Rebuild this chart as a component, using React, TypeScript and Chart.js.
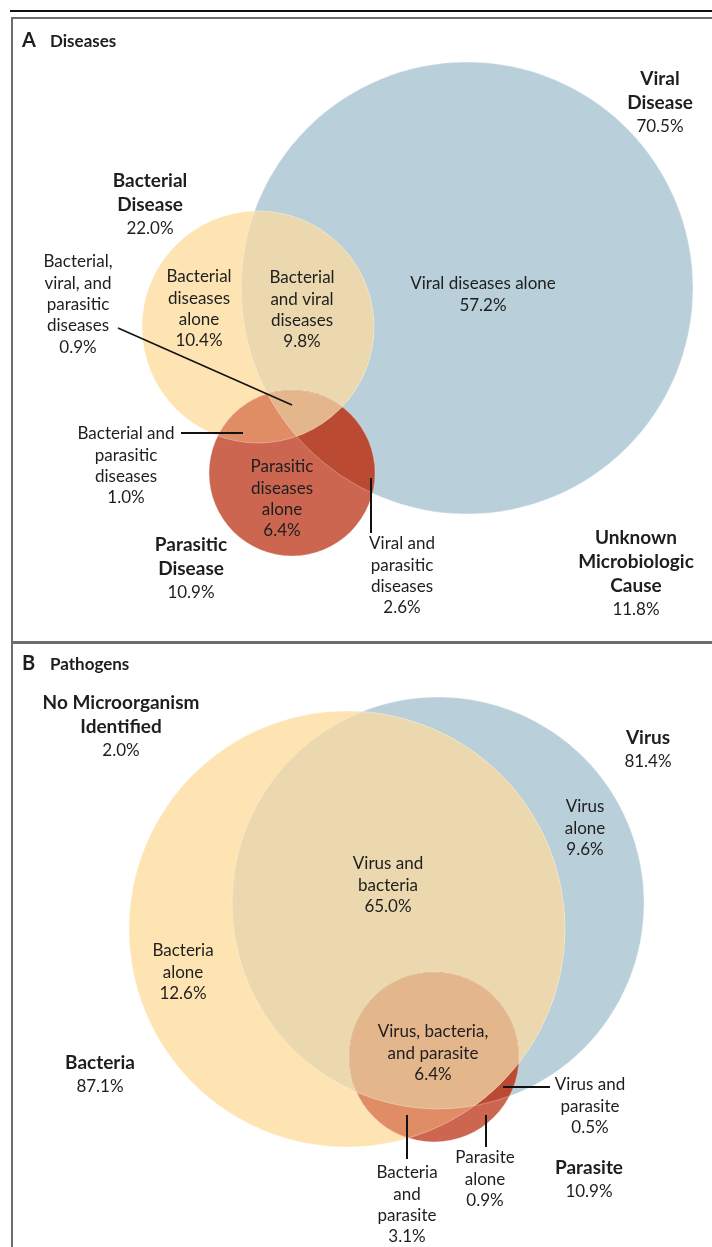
import React, { useEffect, useRef } from "react";
import { Chart, registerables } from "chart.js";

Chart.register(...registerables);

// ---------- DATA ----------
// Region order: [first alone, second alone, third alone, 1+2, 1+3, 2+3, 1+2+3]
// Panel A: Diseases (1 = viral, 2 = bacterial, 3 = parasitic)
const diseaseSets = ["Viral Disease", "Bacterial Disease", "Parasitic Disease"];
const diseaseSetPct = [70.5, 22.0, 10.9];
const diseaseUnknownPct = 11.8;
const diseaseRegionPct = [57.2, 10.4, 6.4, 9.8, 2.6, 1.0, 0.9];

// Panel B: Pathogens (1 = virus, 2 = bacteria, 3 = parasite)
const pathogenSets = ["Virus", "Bacteria", "Parasite"];
const pathogenSetPct = [81.4, 87.1, 10.9];
const pathogenNonePct = 2.0;
const pathogenRegionPct = [9.6, 12.6, 0.9, 65.0, 0.5, 3.1, 6.4];

// ---------- LAYOUT (circle geometry in chart units) ----------
const W = 712;
const H = 1247;
const circleXA = [467, 258, 292];
const circleYA = [288, 327, 473];
const circleRA = [226, 116, 83];
const circleXB = [438, 347, 434];
const circleYB = [903, 929, 1057];
const circleRB = [206, 218, 85];

// ---------- STYLE ----------
const setColors = ["#b9cfda", "#fde4b2", "#cc6650"];
const pairColors = ["#ebd8ae", "#bb4a33", "#e08d65"]; // 1+2, 1+3, 2+3
const tripleColor = "#e3b68b";
const FONT = "Lato, 'Open Sans', sans-serif";
const TEXT = "#1e1e1e";

const pct = (v: number) => v.toFixed(1) + "%";

type Block = { x: number; y: number; head?: string[]; body: string[] };

const blocksA: Block[] = [
  { x: 660, y: 79, head: ["Viral", "Disease"], body: [pct(diseaseSetPct[0])] },
  { x: 150, y: 181, head: ["Bacterial", "Disease"], body: [pct(diseaseSetPct[1])] },
  { x: 191, y: 545, head: ["Parasitic", "Disease"], body: [pct(diseaseSetPct[2])] },
  { x: 636, y: 538, head: ["Unknown", "Microbiologic", "Cause"], body: [pct(diseaseUnknownPct)] },
  { x: 483, y: 284, body: ["Viral diseases alone", pct(diseaseRegionPct[0])] },
  { x: 199, y: 277, body: ["Bacterial", "diseases", "alone", pct(diseaseRegionPct[1])] },
  { x: 282, y: 467, body: ["Parasitic", "diseases", "alone", pct(diseaseRegionPct[2])] },
  { x: 302, y: 278, body: ["Bacterial", "and viral", "diseases", pct(diseaseRegionPct[3])] },
  { x: 402, y: 544, body: ["Viral and", "parasitic", "diseases", pct(diseaseRegionPct[4])] },
  { x: 126, y: 434, body: ["Bacterial and", "parasitic", "diseases", pct(diseaseRegionPct[5])] },
  { x: 78, y: 262, body: ["Bacterial,", "viral, and", "parasitic", "diseases", pct(diseaseRegionPct[6])] },
];
const leadersA = [
  [118, 328, 292, 405],
  [181, 433, 243, 433],
  [371, 478, 371, 533],
];

const blocksB: Block[] = [
  { x: 648, y: 738, head: ["Virus"], body: [pct(pathogenSetPct[0])] },
  { x: 100, y: 1063, head: ["Bacteria"], body: [pct(pathogenSetPct[1])] },
  { x: 589, y: 1168, head: ["Parasite"], body: [pct(pathogenSetPct[2])] },
  { x: 121, y: 703, head: ["No Microorganism", "Identified"], body: [pct(pathogenNonePct)] },
  { x: 585, y: 807, body: ["Virus", "alone", pct(pathogenRegionPct[0])] },
  { x: 183, y: 951, body: ["Bacteria", "alone", pct(pathogenRegionPct[1])] },
  { x: 485, y: 1158, body: ["Parasite", "alone", pct(pathogenRegionPct[2])] },
  { x: 388, y: 864, body: ["Virus and", "bacteria", pct(pathogenRegionPct[3])] },
  { x: 590, y: 1085, body: ["Virus and", "parasite", pct(pathogenRegionPct[4])] },
  { x: 407, y: 1173, body: ["Bacteria", "and", "parasite", pct(pathogenRegionPct[5])] },
  { x: 433, y: 1032, body: ["Virus, bacteria,", "and parasite", pct(pathogenRegionPct[6])] },
];
const leadersB = [
  [503, 1087, 550, 1087],
  [486, 1115, 486, 1147],
  [407, 1115, 407, 1159],
];

const vennPlugin = {
  id: "venn",
  beforeDatasetsDraw(chart: any) {
    const ctx = chart.ctx as CanvasRenderingContext2D;
    ctx.save();
    ctx.fillStyle = "#ffffff";
    ctx.fillRect(0, 0, chart.width, chart.height);
    ctx.fillStyle = "#111111";
    ctx.fillRect(10, 10, W - 10, 2);
    ctx.fillStyle = "#6c6c6c";
    ctx.fillRect(11, 17, W - 11, 2);
    ctx.fillRect(11, 17, 2, H - 17);
    ctx.fillRect(11, 641, W - 11, 3);
    ctx.restore();
  },
  afterDatasetsDraw(chart: any) {
    const ctx = chart.ctx as CanvasRenderingContext2D;
    const sx = chart.scales.x;
    const sy = chart.scales.y;
    const circ = (xs: number[], ys: number[], rs: number[]) =>
      xs.map((x, i) => ({
        x: sx.getPixelForValue(x),
        y: sy.getPixelForValue(ys[i]),
        r: Math.abs(sx.getPixelForValue(x + rs[i]) - sx.getPixelForValue(x)),
      }));
    const paint = (cs: { x: number; y: number; r: number }[]) => {
      const path = (c: { x: number; y: number; r: number }) => {
        ctx.beginPath();
        ctx.arc(c.x, c.y, c.r, 0, Math.PI * 2);
      };
      const pairs = [
        [0, 1],
        [0, 2],
        [1, 2],
      ];
      pairs.forEach(([i, j], k) => {
        ctx.save();
        path(cs[i]);
        ctx.clip();
        path(cs[j]);
        ctx.fillStyle = pairColors[k];
        ctx.fill();
        ctx.restore();
      });
      ctx.save();
      path(cs[0]);
      ctx.clip();
      path(cs[1]);
      ctx.clip();
      path(cs[2]);
      ctx.fillStyle = tripleColor;
      ctx.fill();
      ctx.restore();
      ctx.save();
      cs.forEach((c) => {
        path(c);
        ctx.strokeStyle = "rgba(255,255,255,0.3)";
        ctx.lineWidth = 1;
        ctx.stroke();
      });
      ctx.restore();
    };
    paint(circ(circleXA, circleYA, circleRA));
    paint(circ(circleXB, circleYB, circleRB));
  },
  afterDraw(chart: any) {
    const ctx = chart.ctx as CanvasRenderingContext2D;
    const sx = chart.scales.x;
    const sy = chart.scales.y;
    ctx.save();
    ctx.fillStyle = TEXT;
    ctx.textBaseline = "middle";
    // panel titles
    ctx.textAlign = "left";
    ctx.font = `bold 20px ${FONT}`;
    ctx.fillText("A", 22, 41);
    ctx.fillText("B", 22, 664);
    ctx.font = `bold 17px ${FONT}`;
    ctx.fillText("Diseases", 50, 42);
    ctx.fillText("Pathogens", 50, 665);
    // blocks
    ctx.textAlign = "center";
    const drawBlock = (b: Block) => {
      let y = b.y;
      if (b.head) {
        ctx.font = `bold 19px ${FONT}`;
        b.head.forEach((t) => {
          ctx.fillText(t, b.x, y);
          y += 24;
        });
      }
      ctx.font = `17px ${FONT}`;
      b.body.forEach((t) => {
        ctx.fillText(t, b.x, y);
        y += 21.3;
      });
    };
    blocksA.forEach(drawBlock);
    blocksB.forEach(drawBlock);
    // leaders
    ctx.strokeStyle = "#111111";
    [...leadersA, ...leadersB].forEach((l, i) => {
      ctx.lineWidth = i === 0 ? 1.5 : 2;
      ctx.beginPath();
      ctx.moveTo(sx.getPixelForValue(l[0]), sy.getPixelForValue(l[1]));
      ctx.lineTo(sx.getPixelForValue(l[2]), sy.getPixelForValue(l[3]));
      ctx.stroke();
    });
    ctx.restore();
  },
};

export default function App() {
  const ref = useRef<HTMLCanvasElement>(null);
  useEffect(() => {
    const canvas = ref.current;
    if (!canvas) return;
    const mk = (xs: number[], ys: number[], rs: number[]) =>
      xs.map((x, i) => ({ x, y: ys[i], r: rs[i] }));
    const chart = new Chart(canvas, {
      type: "bubble",
      data: {
        datasets: [
          {
            label: "Diseases: " + diseaseSets.join(", "),
            data: mk(circleXA, circleYA, circleRA),
            backgroundColor: setColors,
            borderWidth: 0,
            hoverRadius: 0,
            clip: false,
          },
          {
            label: "Pathogens: " + pathogenSets.join(", "),
            data: mk(circleXB, circleYB, circleRB),
            backgroundColor: setColors,
            borderWidth: 0,
            hoverRadius: 0,
            clip: false,
          },
        ],
      },
      options: {
        responsive: false,
        animation: false,
        devicePixelRatio: 1,
        events: [],
        layout: { padding: 0, autoPadding: false },
        scales: {
          x: { type: "linear", min: 0, max: W, display: false, grace: 0 },
          y: { type: "linear", min: 0, max: H, reverse: true, display: false, grace: 0 },
        },
        plugins: {
          legend: { display: false },
          tooltip: { enabled: false },
        },
      },
      plugins: [vennPlugin],
    } as any);
    return () => chart.destroy();
  }, []);
  return (
    <div style={{ position: "absolute", left: 0, top: 0, width: W, height: H, background: "#fff" }}>
      <canvas ref={ref} width={W} height={H} style={{ display: "block" }} />
    </div>
  );
}
